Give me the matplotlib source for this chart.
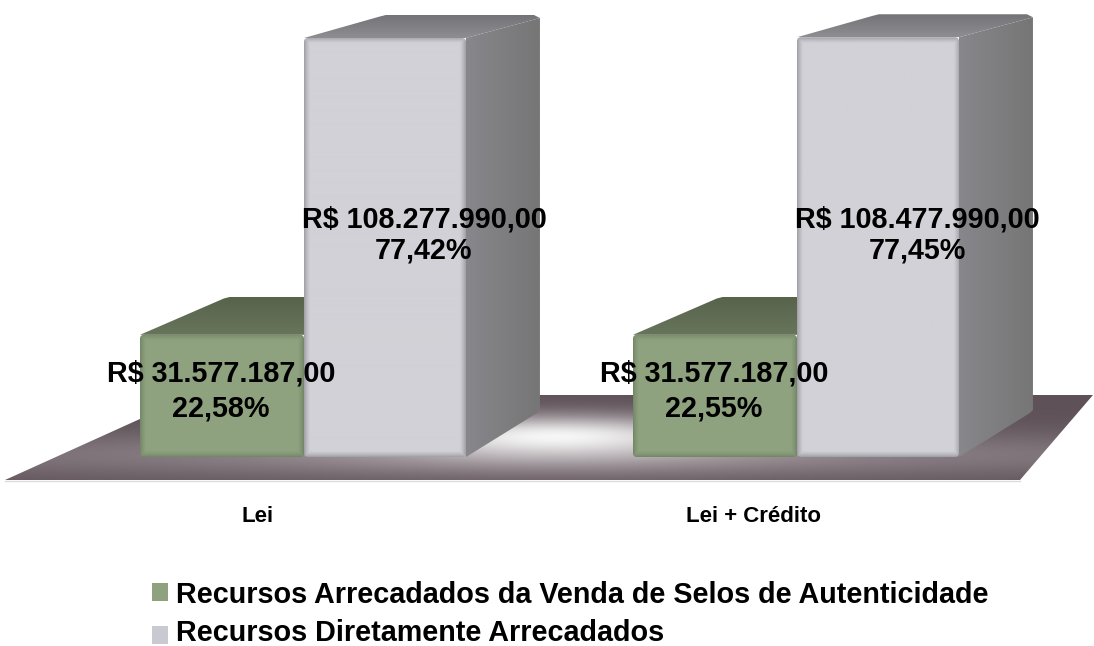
import numpy as np
import matplotlib
matplotlib.use('Agg')
import matplotlib.pyplot as plt
from matplotlib.patches import Polygon, FancyBboxPatch, Rectangle
from matplotlib.colors import to_rgb

plt.rcParams['font.family'] = ['Liberation Sans', 'DejaVu Sans']

# data
categories = ['Lei', 'Lei + Crédito']
selos = [31577187.0, 31577187.0]
diretos = [108277990.0, 108477990.0]
selos_pct = ['22,58%', '22,55%']
diretos_pct = ['77,42%', '77,45%']
selos_txt = ['R$ 31.577.187,00', 'R$ 31.577.187,00']
diretos_txt = ['R$ 108.277.990,00', 'R$ 108.477.990,00']
legend_names = ['Recursos Arrecadados da Venda de Selos de Autenticidade',
                'Recursos Diretamente Arrecadados']

W, H = 1094, 646
PX_X = 493.0      # px per category
PX_Y = 419.0 / 108.27799  # px per million
X0, Y0 = 304.0, 457.0  # px of first category / baseline

fig = plt.figure(figsize=(W / 100, H / 100), dpi=100)
ax = fig.add_axes([0, 0, 1, 1])
ax.axis('off')
xlim = (-X0 / PX_X, (W - X0) / PX_X)
ylim = ((Y0 - H) / PX_Y, Y0 / PX_Y)


def ux(px):
    return (px - X0) / PX_X


def uy(py):
    return (Y0 - py) / PX_Y


def gradient(c_from, c_to, n=64, horizontal=False):
    t = np.linspace(0, 1, n)[:, None, None]
    g = np.array(to_rgb(c_from))[None, None, :] * (1 - t) + np.array(to_rgb(c_to))[None, None, :] * t
    return g.transpose(1, 0, 2) if horizontal else g


def fill(poly, img, z):
    pts = np.array(poly)
    im = ax.imshow(img, origin='lower', aspect='auto', interpolation='bilinear', zorder=z,
                   extent=(pts[:, 0].min(), pts[:, 0].max(), pts[:, 1].min(), pts[:, 1].max()))
    p = Polygon(pts, closed=True, transform=ax.transData, fc='none', ec='none')
    ax.add_patch(p)
    im.set_clip_path(p)


def depth(off_px, v):
    # perspective offset of a front point towards the back of the box
    dx = 90 - (off_px + 164) * 16 / 325
    dy = 44 - 21 * v * PX_Y / 419
    return dx / PX_X, dy / PX_Y


def front(x0, x1, top, face, edge, z, fade=6):
    nx, ny = int((x1 - x0) * PX_X), int(top * PX_Y)
    xx, yy = np.meshgrid(np.arange(nx) + .5, np.arange(ny) + .5)
    d = np.minimum.reduce([xx, nx - xx, yy, ny - yy])
    s = np.clip(d / fade, 0, 1)[:, :, None] ** 0.7
    img = np.array(to_rgb(edge)) * (1 - s) + np.array(to_rgb(face)) * s
    im = ax.imshow(img, origin='lower', aspect='auto', interpolation='bilinear', zorder=z,
                   extent=(x0, x1, 0, top))
    box = FancyBboxPatch((x0, 0), x1 - x0, top, boxstyle='round,pad=0,rounding_size=%f' % (4 / PX_X),
                         mutation_aspect=PX_X / PX_Y, fc='none', ec='none', transform=ax.transData)
    ax.add_patch(box)
    im.set_clip_path(box)


# floor
floor = [(ux(5), uy(480)), (ux(193), uy(395)), (ux(1093), uy(395)), (ux(1020), uy(480))]
fx, fy = np.meshgrid(np.arange(5, 1094), np.arange(480, 394, -1))
dark = np.array(to_rgb('#5e5158'))
mid = np.array(to_rgb('#968c92'))
white = np.array(to_rgb('#f6f6f6'))
k1 = np.exp(-((fy - 455) / 24.0) ** 2)[:, :, None] * (0.45 + 0.55 * np.exp(-((fx - 560) / 420.0) ** 2))[:, :, None]
k1 = np.maximum(k1, 0.35 * np.clip((1020 - fx) / 200.0, 0, 1)[:, :, None] * np.clip((fx - 800) / 150.0, 0, 1)[:, :, None])
k2 = np.exp(-((fx - 555) / 170.0) ** 2 - ((fy - 437) / 21.0) ** 2)[:, :, None]
floor_img = dark * (1 - k1) + mid * k1
floor_img = floor_img * (1 - k2) + white * k2
fill(floor, floor_img, 1)
ax.plot([ux(5), ux(1020)], [uy(481), uy(481)], color='#dcdcdc', lw=1, zorder=1)

# bars
BAR_L, BAR_R = 164 / PX_X, 162 / PX_X
CX, CY = 6 / PX_X, 3 / PX_Y  # chamfer of the box corners
for i in range(len(categories)):
    s, d = selos[i] / 1e6, diretos[i] / 1e6

    # green box, top face only shows (side is behind the grey box)
    dx, dy = depth(-164, s)
    top = [(i - BAR_L, s), (i - BAR_L + dx - CX, s + dy - CY / 2), (i - BAR_L + dx, s + dy),
           (i + 0.02, s + dy), (i + 0.02, s)]
    fill(top, gradient('#67755b', '#58634c'), 3)
    front(i - BAR_L, i, s, '#8fa27f', '#6f8263', 4)

    # grey box
    dxl, dyt = depth(0, d)
    dxr, dyb = depth(162, 0)
    top = [(i, d), (i + dxl - CX, d + dyt - CY / 2), (i + dxl, d + dyt),
           (i + BAR_R + dxr - CX, d + dyt), (i + BAR_R + dxr, d + dyt - CY), (i + BAR_R, d)]
    fill(top, gradient('#8d8d92', '#737378'), 5)
    side = [(i + BAR_R, d), (i + BAR_R + dxr, d + dyt - CY), (i + BAR_R + dxr, dyb + CY),
            (i + BAR_R + dxr - CX / 2, dyb), (i + BAR_R, 0)]
    fill(side, gradient('#87878c', '#767676', horizontal=True), 5)
    front(i, i + BAR_R, d, '#d2d1d7', '#98989f', 6)

    # value labels
    ax.text(i - BAR_L / 2 - 1 / PX_X, uy(391), selos_txt[i] + '\n' + selos_pct[i], ha='center', va='center',
            fontsize=20.7, fontweight='bold', color='black', zorder=10, linespacing=1.33)
    ax.text(i + 120 / PX_X, uy(235), diretos_txt[i] + '\n' + diretos_pct[i], ha='center', va='center',
            fontsize=20.7, fontweight='bold', color='black', zorder=10, linespacing=1.17)

    # category label
    ax.text(ux(258) + i * 495 / PX_X, uy(516), categories[i], ha='center', va='center',
            fontsize=16, fontweight='bold', color='black')

# legend
legend_colors = ['#8fa27f', '#c9c9d1']
legend_base = [603, 641]
legend_box = [601, 644]
for name, col, py, by in zip(legend_names, legend_colors, legend_base, legend_box):
    ax.add_patch(Rectangle((ux(152), uy(by)), 16 / PX_X, 18 / PX_Y, fc=col, ec='none'))
    ax.text(ux(176), uy(py), name, ha='left', va='baseline', fontsize=20.7, fontweight='bold', color='black')

ax.set_xlim(xlim)
ax.set_ylim(ylim)
fig.savefig('out.png', dpi=100)
